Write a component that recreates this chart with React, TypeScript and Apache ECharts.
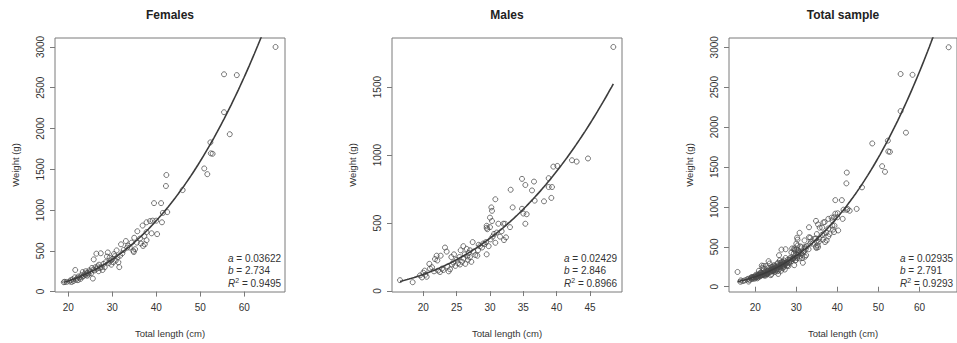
import React, { useEffect, useRef } from "react";
import * as echarts from "echarts";

// ---- data ----
const panelTitles = ["Females", "Males", "Total sample"];
const xAxisTitle = "Total length (cm)";
const yAxisTitle = "Weight (g)";

const fitA = [0.03622, 0.02429, 0.02935];
const fitB = [2.734, 2.846, 2.791];
const fitR2 = [0.9495, 0.8966, 0.9293];

const xTicksFemales = [20, 30, 40, 50, 60];
const xTicksMales = [20, 25, 30, 35, 40, 45];
const xTicksTotal = [20, 30, 40, 50, 60];
const yTicksFemales = [0, 500, 1000, 1500, 2000, 2500, 3000];
const yTicksMales = [0, 500, 1000, 1500];
const yTicksTotal = [0, 500, 1000, 1500, 2000, 2500, 3000];

// [total length cm, weight g]
const females: number[][] = [
  [19.0, 115], [19.2, 120], [19.6, 118], [20.3, 125], [20.6, 140], [20.8, 118], [21.0, 150],
  [21.2, 130], [21.5, 175], [21.6, 265], [21.8, 145], [22.0, 160], [22.2, 140], [22.3, 185],
  [22.5, 170], [22.8, 155], [23.0, 200], [23.1, 180], [23.3, 240], [23.5, 190], [23.7, 215],
  [23.9, 205], [24.0, 250], [24.2, 225], [24.3, 195], [24.5, 230], [24.6, 210], [24.8, 260],
  [25.0, 245], [25.2, 225], [25.4, 290], [25.6, 160], [25.7, 270], [25.8, 395], [26.0, 260],
  [26.2, 300], [26.4, 465], [26.5, 280], [26.7, 310], [26.9, 250], [27.0, 330], [27.2, 290],
  [27.4, 470], [27.6, 300], [27.8, 265], [28.0, 340], [28.3, 300], [28.5, 360], [28.8, 430],
  [29.0, 480], [29.2, 350], [29.4, 415], [29.6, 380], [29.8, 330], [30.0, 400], [30.2, 360],
  [30.4, 460], [30.6, 435], [30.8, 380], [31.0, 505], [31.2, 420], [31.4, 360], [31.6, 300],
  [31.8, 440], [32.0, 580], [32.3, 470], [32.6, 510], [33.1, 620], [33.4, 540], [33.6, 565],
  [34.0, 540], [34.4, 600], [34.8, 500], [34.9, 485], [35.0, 660], [35.2, 520], [35.6, 600],
  [35.7, 740], [36.3, 650], [36.5, 590], [36.9, 810], [37.0, 560], [37.3, 680], [37.4, 580],
  [37.8, 730], [37.8, 850], [37.8, 630], [38.6, 865], [38.95, 715], [39.2, 870], [39.5, 1085],
  [40.0, 870], [40.2, 705], [41.1, 1085], [41.3, 850], [41.5, 965], [42.2, 1295], [42.3, 1430],
  [42.5, 975], [46.0, 1245], [50.9, 1510], [51.6, 1440], [52.3, 1830], [52.4, 1695], [52.8, 1690],
  [55.4, 2665], [55.4, 2200], [56.7, 1930], [58.3, 2655], [67.1, 3000],
];

const males: number[][] = [
  [16.5, 80], [18.4, 65], [19.5, 115], [19.8, 100], [20.0, 135], [20.2, 150], [20.3, 120],
  [20.5, 105], [20.9, 200], [21.0, 165], [21.3, 175], [21.6, 145], [21.75, 235], [22.0, 260],
  [22.1, 225], [22.2, 150], [22.5, 140], [22.6, 260], [22.8, 165], [23.0, 155], [23.25, 320],
  [23.5, 290], [23.6, 180], [23.8, 145], [24.0, 160], [24.2, 250], [24.3, 195], [24.5, 210],
  [24.6, 270], [24.8, 185], [25.0, 230], [25.2, 205], [25.4, 250], [25.5, 195], [25.6, 300],
  [25.8, 215], [26.0, 330], [26.0, 240], [26.2, 270], [26.3, 200], [26.5, 310], [26.6, 255],
  [26.7, 230], [26.8, 280], [27.0, 300], [27.0, 250], [27.2, 215], [27.4, 360], [27.5, 290],
  [27.8, 265], [28.1, 260], [28.2, 300], [28.3, 340], [28.5, 330], [28.8, 320], [29.0, 350],
  [29.2, 345], [29.4, 360], [29.5, 270], [29.5, 480], [29.5, 465], [29.6, 455], [29.8, 330],
  [30.0, 540], [30.0, 470], [30.1, 380], [30.2, 615], [30.3, 590], [30.3, 515], [30.4, 400],
  [30.6, 420], [30.8, 675], [30.8, 355], [31.0, 430], [31.25, 495], [31.5, 400], [31.75, 440],
  [32.0, 495], [32.1, 375], [32.25, 495], [32.4, 395], [33.0, 470], [33.1, 745], [33.4, 615],
  [34.8, 825], [34.8, 605], [35.0, 570], [35.3, 780], [35.3, 495], [35.5, 565], [36.3, 740],
  [36.6, 805], [36.7, 665], [38.1, 660], [38.8, 830], [38.8, 765], [39.2, 685], [39.3, 765],
  [39.5, 915], [40.1, 920], [42.3, 962], [43.0, 952], [44.7, 975], [48.5, 1795],
];

// unsexed fish that appear only in the total sample
const unsexed: number[][] = [
  [15.7, 185], [16.4, 62], [17.0, 70], [17.5, 80], [18.0, 90], [18.3, 100], [18.6, 85],
  [18.9, 105], [19.2, 95], [19.4, 120], [19.7, 110], [20.0, 125], [20.2, 115], [20.5, 140],
  [20.8, 130], [21.0, 150], [21.3, 140], [21.5, 160], [21.8, 150], [22.0, 175], [22.3, 165],
  [22.6, 185], [22.9, 170], [23.2, 200], [23.5, 190], [23.8, 215], [24.1, 200], [24.4, 225],
  [24.7, 215], [25.0, 245], [25.3, 230], [25.6, 255], [26.0, 250], [26.3, 275], [26.7, 265],
  [27.0, 290], [27.4, 280], [27.8, 310],
];

const totalSample: number[][] = [...females, ...males, ...unsexed];

// ---- layout ----
const FONT = "Liberation Sans, Arial, Helvetica, sans-serif";
const TEXT = "#333";
const BOX = "#7a7a7a";

const panels = [
  { data: females, xTicks: xTicksFemales, yTicks: yTicksFemales, left: 55, width: 230, xMin: 17.0, xMax: 69.25, yMin: -5, yMax: 3110 },
  { data: males, xTicks: xTicksMales, yTicks: yTicksMales, left: 392, width: 230, xMin: 15.3, xMax: 49.8, yMin: -7, yMax: 1861 },
  { data: totalSample, xTicks: xTicksTotal, yTicks: yTicksTotal, left: 729, width: 229, xMin: 13.62, xMax: 69.13, yMin: -66, yMax: 3116 },
];
const GRID_TOP = 38;
const GRID_H = 255;

function fitCurve(data: number[][], a: number, b: number) {
  const xs = data.map((d) => d[0]);
  const lo = Math.min(...xs);
  const hi = Math.max(...xs);
  const pts: number[][] = [];
  const n = 120;
  for (let i = 0; i <= n; i++) {
    const L = lo + ((hi - lo) * i) / n;
    pts.push([L, a * Math.pow(L, b)]);
  }
  return pts;
}

const plain = (v: number) => String(v);

export default function App() {
  const ref = useRef<HTMLDivElement>(null);
  useEffect(() => {
    if (!ref.current) return;
    const chart = echarts.init(ref.current, undefined, { renderer: "svg" });

    const grids = panels.map((p) => ({
      left: p.left,
      top: GRID_TOP,
      width: p.width,
      height: GRID_H,
      show: true,
      borderColor: BOX,
      borderWidth: 1,
      backgroundColor: "transparent",
      containLabel: false,
    }));

    const xAxes = panels.map((p, i) => ({
      type: "value",
      gridIndex: i,
      min: p.xMin,
      max: p.xMax,
      name: xAxisTitle,
      nameLocation: "middle",
      nameGap: 36,
      nameTextStyle: { color: TEXT, fontSize: 9.5, fontFamily: FONT },
      axisLine: { show: false },
      axisTick: { show: true, length: 5, inside: false, customValues: p.xTicks, lineStyle: { color: BOX, width: 1 } },
      axisLabel: { show: true, customValues: p.xTicks, formatter: plain, margin: 10, color: TEXT, fontSize: 10, fontFamily: FONT },
      splitLine: { show: false },
    }));

    const yAxes = panels.map((p, i) => ({
      type: "value",
      gridIndex: i,
      min: p.yMin,
      max: p.yMax,
      name: yAxisTitle,
      nameLocation: "middle",
      nameGap: 35,
      nameTextStyle: { color: TEXT, fontSize: 9.5, fontFamily: FONT },
      axisLine: { show: false },
      axisTick: { show: true, length: 5, inside: false, customValues: p.yTicks, lineStyle: { color: BOX, width: 1 } },
      axisLabel: { show: true, customValues: p.yTicks, formatter: plain, rotate: 90, margin: 10, color: TEXT, fontSize: 10, fontFamily: FONT },
      splitLine: { show: false },
    }));

    const series: any[] = [];
    panels.forEach((p, i) => {
      series.push({
        type: "scatter",
        xAxisIndex: i,
        yAxisIndex: i,
        data: p.data,
        symbol: "circle",
        symbolSize: 5,
        itemStyle: { color: "rgba(0,0,0,0)", borderColor: "#4a4a4a", borderWidth: 0.9, opacity: 0.85 },
        clip: true,
        silent: true,
        z: 2,
      });
      series.push({
        type: "line",
        xAxisIndex: i,
        yAxisIndex: i,
        data: fitCurve(p.data, fitA[i], fitB[i]),
        showSymbol: false,
        smooth: false,
        clip: true,
        lineStyle: { color: "#3c3c3c", width: 1.6 },
        silent: true,
        z: 3,
      });
    });

    const graphics: any[] = [];
    panels.forEach((p, i) => {
      graphics.push({
        type: "text",
        x: p.left + p.width / 2 - (i === 2 ? 0.5 : 0),
        y: 15,
        style: {
          text: panelTitles[i],
          textAlign: "center",
          textVerticalAlign: "middle",
          fontFamily: FONT,
          fontSize: 12,
          fontWeight: "bold",
          fill: "#222",
        },
      });
      const annX = [228, 564, 900][i];
      graphics.push({
        type: "text",
        x: annX,
        y: 252,
        style: {
          text: `{i|a} = ${fitA[i]}\n{i|b} = ${fitB[i]}\n{i|R}{s|2} = ${fitR2[i]}`,
          textAlign: "left",
          textVerticalAlign: "top",
          fontFamily: FONT,
          fontSize: 10,
          lineHeight: 12.5,
          fill: TEXT,
          rich: {
            i: { fontStyle: "italic", fontSize: 10, fontFamily: FONT, fill: TEXT, lineHeight: 12.5 },
            s: { fontSize: 7, fontFamily: FONT, fill: TEXT, verticalAlign: "top", lineHeight: 12.5, padding: [0, 0, 4, 0] },
          },
        },
      });
    });

    chart.setOption({
      animation: false,
      backgroundColor: "#ffffff",
      grid: grids,
      xAxis: xAxes,
      yAxis: yAxes,
      series,
      graphic: graphics,
    });

    return () => chart.dispose();
  }, []);

  return (
    <div
      ref={ref}
      style={{ position: "absolute", left: 0, top: 0, width: 957, height: 343 }}
    />
  );
}
